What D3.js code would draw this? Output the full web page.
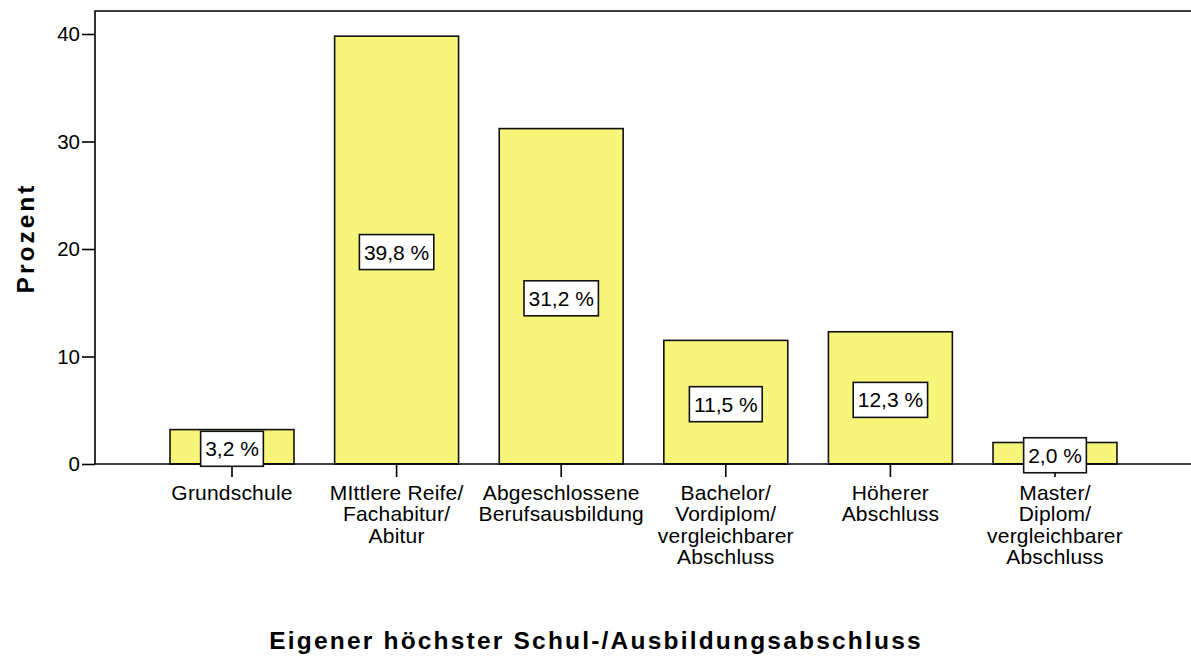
<!DOCTYPE html>
<html lang="de">
<head>
<meta charset="utf-8">
<title>Schulabschluss</title>
<script src="https://cdn.jsdelivr.net/npm/d3@7"></script>
<style>
  body { margin: 0; background: #fff; }
  svg { display: block; font-family: "Liberation Sans", Arial, sans-serif; }
</style>
</head>
<body>
<div id="chart"></div>
<script>
const categories = [
  ["Grundschule"],
  ["MIttlere Reife/", "Fachabitur/", "Abitur"],
  ["Abgeschlossene", "Berufsausbildung"],
  ["Bachelor/", "Vordiplom/", "vergleichbarer", "Abschluss"],
  ["Höherer", "Abschluss"],
  ["Master/", "Diplom/", "vergleichbarer", "Abschluss"]
];
const values = [3.2, 39.8, 31.2, 11.5, 12.3, 2.0];
const labels = ["3,2 %", "39,8 %", "31,2 %", "11,5 %", "12,3 %", "2,0 %"];
const yTicks = [0, 10, 20, 30, 40];

const w = 1191, h = 659;
const plotLeft = 95, plotTop = 11, plotBottom = 464;

const svg = d3.select("#chart").append("svg")
  .attr("width", w)
  .attr("height", h);

const x = d3.scaleBand()
  .domain(d3.range(values.length))
  .range([149.7, 1137.3])
  .paddingInner(0.247)
  .paddingOuter(0.1235);

const y = d3.scaleLinear()
  .domain([0, 40])
  .range([plotBottom, 34]);

// frame
svg.append("path")
  .attr("d", `M${plotLeft},${plotBottom}V${plotTop}H${w}`)
  .attr("fill", "none")
  .attr("stroke", "#000")
  .attr("stroke-width", 1.6);

// bars
svg.append("g").selectAll("rect")
  .data(values)
  .enter()
  .append("rect")
    .attr("x", (d, i) => x(i))
    .attr("y", d => y(d))
    .attr("width", x.bandwidth())
    .attr("height", d => y(0) - y(d))
    .attr("fill", "#f8f67a")
    .attr("stroke", "#111")
    .attr("stroke-width", 1.6);

// y axis
const yAxis = svg.append("g")
  .attr("transform", `translate(${plotLeft},0)`)
  .call(d3.axisLeft(y).tickValues(yTicks).tickSize(13).tickPadding(2).tickFormat(d3.format("d")));
yAxis.select(".domain").remove();
yAxis.selectAll("line").attr("stroke", "#000").attr("stroke-width", 1.6);
yAxis.selectAll("text").attr("font-size", 20.5).attr("fill", "#000")
  .attr("font-family", "Liberation Sans, Arial, sans-serif");

// x axis
const xAxis = svg.append("g")
  .attr("transform", `translate(0,${plotBottom})`)
  .call(d3.axisBottom(x).tickSize(13).tickFormat(""));
xAxis.select(".domain").attr("d", `M${plotLeft},0H${w}`).attr("stroke", "#000").attr("stroke-width", 1.6);
xAxis.selectAll("line").attr("stroke", "#000").attr("stroke-width", 1.6);

// category labels
const cat = svg.append("g").selectAll("text")
  .data(categories)
  .enter()
  .append("text")
    .attr("x", (d, i) => x(i) + x.bandwidth() / 2)
    .attr("y", 500)
    .attr("text-anchor", "middle")
    .attr("font-size", 21)
    .attr("letter-spacing", 0.2)
    .attr("fill", "#000");
cat.selectAll("tspan")
  .data(d => d)
  .enter()
  .append("tspan")
    .attr("x", function() { return this.parentNode.getAttribute("x"); })
    .attr("dy", (d, i) => i === 0 ? 0 : 21.4)
    .text(d => d);

// value boxes
const boxH = 35;
const box = svg.append("g").selectAll("g")
  .data(values)
  .enter()
  .append("g")
    .attr("transform", (d, i) => `translate(${x(i) + x.bandwidth() / 2},${(y(d) + y(0)) / 2 + 2})`);
const boxRect = box.append("rect")
  .attr("y", -boxH / 2)
  .attr("height", boxH)
  .attr("fill", "#fff")
  .attr("stroke", "#111")
  .attr("stroke-width", 1.6);
const boxText = box.append("text")
  .attr("text-anchor", "middle")
  .attr("dy", "0.36em")
  .attr("font-size", 21)
  .attr("fill", "#000")
  .text((d, i) => labels[i]);
boxText.each(function(d, i) {
  const tw = this.getComputedTextLength() + 9;
  d3.select(boxRect.nodes()[i]).attr("x", -tw / 2).attr("width", tw);
});

// axis titles
svg.append("text")
  .attr("x", 596)
  .attr("y", 649)
  .attr("text-anchor", "middle")
  .attr("font-size", 24.5)
  .attr("font-weight", "bold")
  .attr("letter-spacing", 2.2)
  .text("Eigener höchster Schul-/Ausbildungsabschluss");

svg.append("text")
  .attr("transform", "translate(34,238) rotate(-90)")
  .attr("text-anchor", "middle")
  .attr("font-size", 24.5)
  .attr("font-weight", "bold")
  .attr("letter-spacing", 3)
  .text("Prozent");
</script>
</body>
</html>
